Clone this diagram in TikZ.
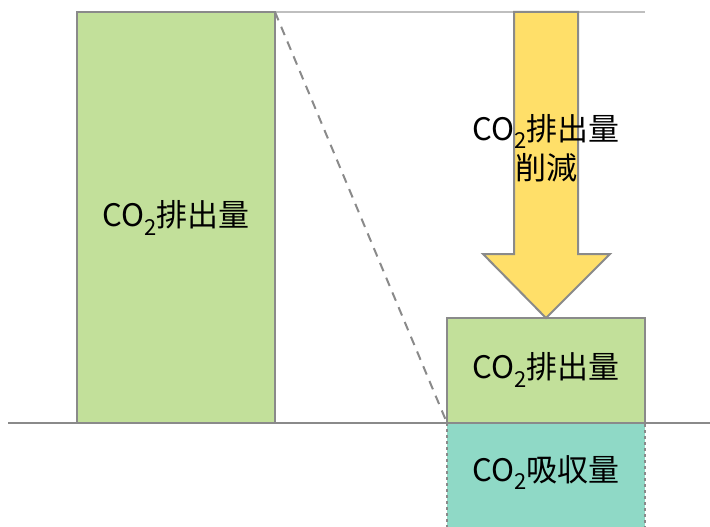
\documentclass[tikz,border=0pt]{standalone}
\usepackage{fontspec}
\setmainfont{Noto Sans CJK JP}
\newcommand\cotwo{CO\raisebox{-0.26em}{\fontsize{22}{22}\selectfont 2}}
\definecolor{lgreen}{HTML}{C2E09A}
\definecolor{ayellow}{HTML}{FFDF69}
\definecolor{teal2}{HTML}{8FD9C6}
\definecolor{edge}{HTML}{8A8A8A}
\begin{document}
\begin{tikzpicture}[x=1pt,y=-1pt,
  lbl/.style={font=\fontsize{31}{35}\selectfont, align=center, inner sep=0pt},
  bar/.style={draw=edge, line width=2pt}]
\useasboundingbox (0,0) rectangle (710,527);
% top line
\coordinate (tl) at (275,12);
\coordinate (tr) at (645,12);
\draw[color=black!25, line width=2.5pt] (tl) -- (tr);
% left box
\draw[bar, fill=lgreen] (77,12) rectangle (275,423);
\node[lbl] (left) at (176,218) {\cotwo 排出量};
% teal box
\draw[draw=edge, dashed, line width=1.2pt, fill=teal2] (447,423) rectangle (645,530);
\node[lbl] (absorb) at (546,473) {\cotwo 吸収量};
% lower green box
\draw[bar, fill=lgreen] (447,318) rectangle (645,423);
\node[lbl] (low) at (546,370) {\cotwo 排出量};
% baseline
\coordinate (bl) at (8,423);
\coordinate (br) at (710,423);
\draw[color=edge, line width=2.5pt] (bl) -- (br);
% dashed diagonal
\coordinate (dtop) at (275,12);
\coordinate (dbot) at (447,423);
\draw[color=edge, dash pattern=on 9pt off 7pt, line width=2pt] (dtop) -- (dbot);
% arrow
\draw[bar, fill=ayellow, line join=miter] (514,12) -- (578,12) -- (578,254) -- (610,254) -- (546,318) -- (483,254) -- (514,254) -- cycle;
\node[lbl, font=\fontsize{31}{39}\selectfont] (cut) at (546,148) {\cotwo 排出量\\削減};
\end{tikzpicture}
\end{document}
